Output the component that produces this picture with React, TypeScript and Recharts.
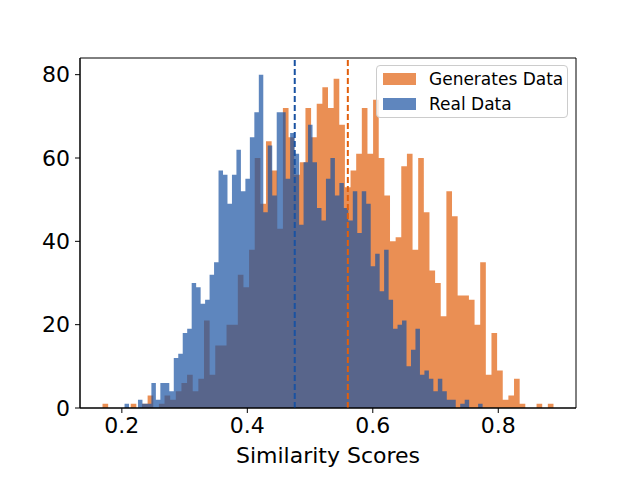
import React from 'react';
import {
  Area,
  ComposedChart,
  ReferenceArea,
  ReferenceLine,
  XAxis,
  YAxis,
} from 'recharts';

// Histogram counts, 80 bins per series.
const GEN_COUNTS = [
  1, 0, 0, 0, 0, 1, 0, 1, 3, 0, 1, 3, 2, 4, 6, 8, 4, 7, 21, 8,
  15, 15, 20, 20, 32, 29, 38, 60, 49, 64, 57, 43, 72, 65, 56, 59, 72, 65, 73, 77,
  72, 79, 68, 53, 57, 61, 72, 61, 74, 60, 51, 40, 41, 58, 61, 38, 60, 47, 33, 30,
  22, 52, 46, 27, 27, 26, 20, 35, 8, 18, 9, 2, 3, 7, 1, 0, 0, 1, 0, 1,
];
const REAL_COUNTS = [
  1, 0, 0, 2, 1, 1, 6, 2, 6, 6, 4, 12, 13, 18, 19, 30, 29, 25, 26, 32,
  35, 57, 56, 49, 56, 62, 52, 55, 65, 71, 80, 47, 63, 51, 71, 71, 55, 66, 61, 44,
  59, 68, 59, 48, 45, 55, 60, 51, 54, 48, 45, 52, 42, 52, 49, 34, 37, 28, 38, 26,
  19, 20, 21, 10, 14, 19, 8, 9, 7, 4, 7, 4, 2, 2, 0, 1, 2, 0, 0, 1,
];

// bin layout (first edge, bin width)
const GEN_MIN = 0.1692;
const GEN_WIDTH = 0.008985;
const REAL_MIN = 0.2043;
const REAL_WIDTH = 0.007134;

// dashed mean markers
const GEN_MEAN = 0.5602;
const REAL_MEAN = 0.4756;

const X_DOMAIN = [0.1333, 0.9239];
const X_TICKS = [0.2, 0.4, 0.6, 0.8];
const Y_DOMAIN = [0, 84];
const Y_TICKS = [0, 20, 40, 60, 80];

const SERIES = ['Generates Data', 'Real Data'];

const ORANGE = '#E15F0C';
const BLUE = '#1A52A2';
const ALPHA = 0.7;
const ORANGE_SHOWN = '#EA9057';
const BLUE_SHOWN = '#5F86BE';

const FONT = '"DejaVu Sans", Verdana, sans-serif';

function stepValue(counts: number[], min: number, width: number, x: number) {
  const i = Math.floor((x - min) / width + 1e-9);
  if (i < 0 || i >= counts.length) return 0;
  return counts[i];
}

function buildRows() {
  const xs: number[] = [];
  for (let k = 0; k <= GEN_COUNTS.length; k++) xs.push(+(GEN_MIN + k * GEN_WIDTH).toFixed(6));
  for (let k = 0; k <= REAL_COUNTS.length; k++) xs.push(+(REAL_MIN + k * REAL_WIDTH).toFixed(6));
  const uniq = Array.from(new Set(xs)).sort((a, b) => a - b);
  return uniq.map((x) => ({
    x,
    gen: stepValue(GEN_COUNTS, GEN_MIN, GEN_WIDTH, x),
    real: stepValue(REAL_COUNTS, REAL_MIN, REAL_WIDTH, x),
  }));
}

const rows = buildRows();

function LegendBox() {
  const swatches = [ORANGE_SHOWN, BLUE_SHOWN];
  return (
    <div
      style={{
        position: 'absolute',
        left: 376,
        top: 65,
        width: 192,
        height: 53,
        boxSizing: 'border-box',
        border: '1px solid #cccccc',
        borderRadius: 4,
        background: 'rgba(255,255,255,0.8)',
        fontFamily: FONT,
        fontSize: 17,
        color: '#000',
      }}
    >
      {SERIES.map((name, i) => (
        <div key={name} style={{ position: 'absolute', left: 0, top: 4 + i * 25, height: 19, width: '100%' }}>
          <span
            style={{
              position: 'absolute',
              left: 6,
              top: 3,
              width: 33,
              height: 12,
              background: swatches[i],
            }}
          />
          <span style={{ position: 'absolute', left: 52, top: -1, lineHeight: '20px', whiteSpace: 'nowrap' }}>
            {name}
          </span>
        </div>
      ))}
    </div>
  );
}

export default function App() {
  const tickStyle = { fill: '#000', fontSize: 22, fontFamily: FONT };
  return (
    <div style={{ position: 'absolute', left: 0, top: 0, width: 640, height: 480, background: '#fff' }}>
      <ComposedChart
        width={640}
        height={480}
        data={rows}
        margin={{ top: 58, right: 64, bottom: 0, left: 0 }}
      >
        <XAxis
          type="number"
          dataKey="x"
          domain={X_DOMAIN}
          ticks={X_TICKS}
          allowDataOverflow
          height={72}
          tickSize={5}
          tickMargin={4}
          tick={tickStyle}
          tickLine={{ stroke: '#000' }}
          axisLine={{ stroke: '#000' }}
          tickFormatter={(v: number) => v.toFixed(1)}
          label={{
            value: 'Similarity Scores',
            position: 'insideBottom',
            offset: 17,
            fill: '#000',
            fontSize: 22,
            fontFamily: FONT,
          }}
        />
        <YAxis
          type="number"
          domain={Y_DOMAIN}
          ticks={Y_TICKS}
          allowDataOverflow
          width={80}
          tickSize={5}
          tickMargin={5}
          tick={tickStyle}
          tickLine={{ stroke: '#000' }}
          axisLine={{ stroke: '#000' }}
        />
        <Area
          type="stepAfter"
          dataKey="gen"
          name={SERIES[0]}
          fill={ORANGE}
          fillOpacity={ALPHA}
          stroke="none"
          dot={false}
          activeDot={false}
          isAnimationActive={false}
        />
        <Area
          type="stepAfter"
          dataKey="real"
          name={SERIES[1]}
          fill={BLUE}
          fillOpacity={ALPHA}
          stroke="none"
          dot={false}
          activeDot={false}
          isAnimationActive={false}
        />
        <ReferenceLine x={REAL_MEAN} stroke={BLUE} strokeWidth={2} strokeDasharray="6 3" />
        <ReferenceLine x={GEN_MEAN} stroke={ORANGE} strokeWidth={2} strokeDasharray="6 3" />
        <ReferenceArea
          x1={X_DOMAIN[0]}
          x2={X_DOMAIN[1]}
          y1={Y_DOMAIN[0]}
          y2={Y_DOMAIN[1]}
          fill="none"
          fillOpacity={0}
          stroke="#000"
          strokeWidth={1}
        />
      </ComposedChart>
      <LegendBox />
    </div>
  );
}
